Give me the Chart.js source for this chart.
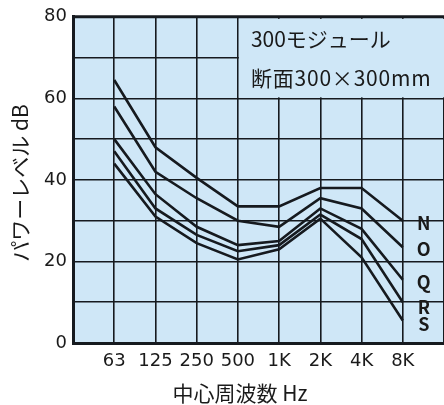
<!DOCTYPE html>
<html lang="ja">
<head>
    <meta charset="UTF-8">
    <title>パワーレベル</title>
    <script src="https://cdn.jsdelivr.net/npm/chart.js"></script>
    <style>
        html, body { margin: 0; padding: 0; background: #ffffff; }
        #wrap { width: 444px; height: 405px; }
    </style>
</head>
<body>
    <div id="wrap"><canvas id="grafico"></canvas></div>

    <script>
        // dados
        const frequencias = ['', '63', '125', '250', '500', '1K', '2K', '4K', '8K', ''];
        const curvas = ['N', 'O', 'Q', 'R', 'S'];
        const valoresN = [64.5, 48, 40.5, 33.5, 33.5, 38, 38, 30];
        const valoresO = [58, 42, 35.5, 30, 28.5, 35.5, 33, 23.5];
        const valoresQ = [50, 36.5, 28.5, 24, 25, 33, 28, 15.5];
        const valoresR = [47, 33, 26.5, 22.5, 24, 31.5, 25.5, 10];
        const valoresS = [44, 31, 24.5, 20.5, 23, 30.5, 21, 5.5];
        const ticksY = [0, 20, 40, 60, 80];
        const textoCaixa = ['300モジュール', '断面300×300mm'];
        const tituloX = '中心周波数 Hz';
        const tituloY = 'パワーレベル dB';

        const fonte = "'Noto Sans CJK JP', 'Noto Sans', sans-serif";
        const fonteNum = "'DejaVu Sans', sans-serif";
        const corFundo = '#cfe7f7';
        const corLinha = '#161a1f';

        const series = [valoresN, valoresO, valoresQ, valoresR, valoresS];

        // null nas pontas: primeira e última colunas vazias
        const datasets = series.map(function (v, i) {
            return {
                label: curvas[i],
                data: [null].concat(v, [null]),
                borderColor: corLinha,
                borderWidth: 2.6,
                pointRadius: 0,
                tension: 0,
                fill: false
            };
        });

        // fundo azul, caixa de texto, letras das curvas e títulos
        const desenhos = {
            id: 'desenhos',
            beforeDraw: function (chart) {
                const a = chart.chartArea;
                const c = chart.ctx;
                c.save();
                c.fillStyle = corFundo;
                c.fillRect(a.left, a.top, a.right - a.left, a.bottom - a.top);
                c.restore();
            },
            beforeDatasetsDraw: function (chart) {
                const a = chart.chartArea;
                const c = chart.ctx;
                const x = chart.scales.x;
                const y = chart.scales.y;
                const x0 = x.getPixelForValue(4);
                const y0 = y.getPixelForValue(60);
                c.save();
                c.fillStyle = corFundo;
                c.fillRect(x0 + 1, a.top + 2, a.right - x0 - 1, y0 - a.top - 3);
                c.fillStyle = '#1a1a1a';
                c.textBaseline = 'middle';
                c.textAlign = 'left';
                c.font = '21px ' + fonte;
                c.fillText(textoCaixa[0], x0 + 13, y.getPixelForValue(74.6));
                c.letterSpacing = '0.8px';
                c.fillText(textoCaixa[1], x0 + 13, y.getPixelForValue(65.1));
                c.restore();
            },
            afterDraw: function (chart) {
                const c = chart.ctx;
                const a = chart.chartArea;
                const x = chart.scales.x;
                const y = chart.scales.y;
                const ajuste = [2, 2, 2, 5, 4];
                c.save();
                // borda de cima mais grossa
                c.strokeStyle = corLinha;
                c.lineWidth = 3;
                c.beginPath();
                c.moveTo(a.left, a.top);
                c.lineTo(a.right, a.top);
                c.stroke();
                c.fillStyle = '#1a1a1a';
                c.font = 'bold 18px ' + fonte;
                c.textAlign = 'center';
                c.textBaseline = 'middle';
                for (let i = 0; i < curvas.length; i++) {
                    const ultimo = series[i][series[i].length - 1];
                    c.fillText(curvas[i], x.getPixelForValue(8) + 21, y.getPixelForValue(ultimo) + ajuste[i]);
                }
                // título do eixo x
                c.font = '21px ' + fonte;
                c.fillText(tituloX, 240, 393);
                // título do eixo y
                c.translate(20, (a.top + a.bottom) / 2 + 3);
                c.rotate(-Math.PI / 2);
                c.fillText(tituloY, 0, 0);
                c.restore();
            }
        };

        new Chart(document.getElementById('grafico'), {
            type: 'line',
            data: { labels: frequencias, datasets: datasets },
            options: {
                responsive: true,
                maintainAspectRatio: false,
                animation: false,
                layout: { padding: { top: 15, right: 0, left: 0, bottom: 0 } },
                plugins: {
                    legend: { display: false },
                    tooltip: { enabled: false }
                },
                scales: {
                    x: {
                        type: 'category',
                        offset: false,
                        grid: { color: corLinha, lineWidth: 1.6, drawTicks: true, tickLength: 8, tickColor: 'rgba(0,0,0,0)' },
                        border: { color: corLinha, width: 3 },
                        ticks: {
                            autoSkip: false,
                            maxRotation: 0,
                            minRotation: 0,
                            padding: 0,
                            color: '#1a1a1a',
                            font: { family: fonteNum, size: 18 }
                        },
                        afterFit: function (s) { s.height = 62; }
                    },
                    y: {
                        min: 0,
                        max: 80,
                        grid: { color: corLinha, lineWidth: 1.6, drawTicks: false },
                        border: { color: corLinha, width: 3 },
                        ticks: {
                            stepSize: 10,
                            padding: 6,
                            color: '#1a1a1a',
                            font: { family: fonteNum, size: 18 },
                            callback: function (v) { return ticksY.includes(v) ? v : ''; }
                        },
                        afterFit: function (s) { s.width = 73; }
                    }
                }
            },
            plugins: [desenhos]
        });
    </script>
</body>
</html>
